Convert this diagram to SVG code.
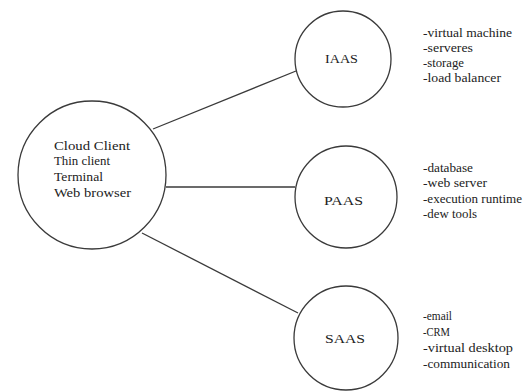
<svg xmlns="http://www.w3.org/2000/svg" width="523" height="392" viewBox="0 0 523 392">
<style>
.node{fill:#fff;stroke:#3a3a3a;stroke-width:1.3}
.edge{stroke:#3a3a3a;stroke-width:1.3;fill:none}
text{font-family:"Liberation Serif","Times New Roman",serif;font-size:12px;fill:#222}
.lbl{font-size:11.5px}
</style>
<rect width="523" height="392" fill="#fff"/>
<g id="connectors">
<line class="edge" x1="153" y1="129" x2="296" y2="71"/>
<line class="edge" x1="166" y1="187" x2="295" y2="187"/>
<line class="edge" x1="142" y1="233" x2="298" y2="313"/>
</g>
<g id="client">
<circle class="node" cx="92" cy="175" r="74"/>
<text x="54" y="150" textLength="76" lengthAdjust="spacingAndGlyphs">Cloud Client</text>
<text x="54" y="165" textLength="56" lengthAdjust="spacingAndGlyphs">Thin client</text>
<text x="54" y="181" textLength="49" lengthAdjust="spacingAndGlyphs">Terminal</text>
<text x="54" y="197" textLength="77" lengthAdjust="spacingAndGlyphs">Web browser</text>
</g>
<g id="iaas">
<circle class="node" cx="343" cy="59" r="48"/>
<text x="325" y="63" textLength="33" lengthAdjust="spacingAndGlyphs">IAAS</text>
</g>
<g id="paas">
<circle class="node" cx="346" cy="197" r="51"/>
<text x="324" y="205" textLength="39" lengthAdjust="spacingAndGlyphs">PAAS</text>
</g>
<g id="saas">
<circle class="node" cx="346" cy="338" r="52"/>
<text x="325" y="343" textLength="40" lengthAdjust="spacingAndGlyphs">SAAS</text>
</g>
<g id="iaas-list">
<text class="lbl" x="423" y="37" textLength="89" lengthAdjust="spacingAndGlyphs">-virtual machine</text>
<text class="lbl" x="423" y="52" textLength="50" lengthAdjust="spacingAndGlyphs">-serveres</text>
<text class="lbl" x="423" y="67" textLength="41" lengthAdjust="spacingAndGlyphs">-storage</text>
<text class="lbl" x="423" y="82" textLength="78" lengthAdjust="spacingAndGlyphs">-load balancer</text>
</g>
<g id="paas-list">
<text class="lbl" x="423" y="172" textLength="50" lengthAdjust="spacingAndGlyphs">-database</text>
<text class="lbl" x="423" y="187" textLength="64" lengthAdjust="spacingAndGlyphs">-web server</text>
<text class="lbl" x="423" y="203" textLength="99" lengthAdjust="spacingAndGlyphs">-execution runtime</text>
<text class="lbl" x="423" y="218" textLength="54" lengthAdjust="spacingAndGlyphs">-dew tools</text>
</g>
<g id="saas-list">
<text class="lbl" x="423" y="320" textLength="29" lengthAdjust="spacingAndGlyphs">-email</text>
<text class="lbl" x="423" y="336" textLength="27" lengthAdjust="spacingAndGlyphs">-CRM</text>
<text class="lbl" x="423" y="352" textLength="90" lengthAdjust="spacingAndGlyphs">-virtual desktop</text>
<text class="lbl" x="423" y="368" textLength="87" lengthAdjust="spacingAndGlyphs">-communication</text>
</g>
</svg>
